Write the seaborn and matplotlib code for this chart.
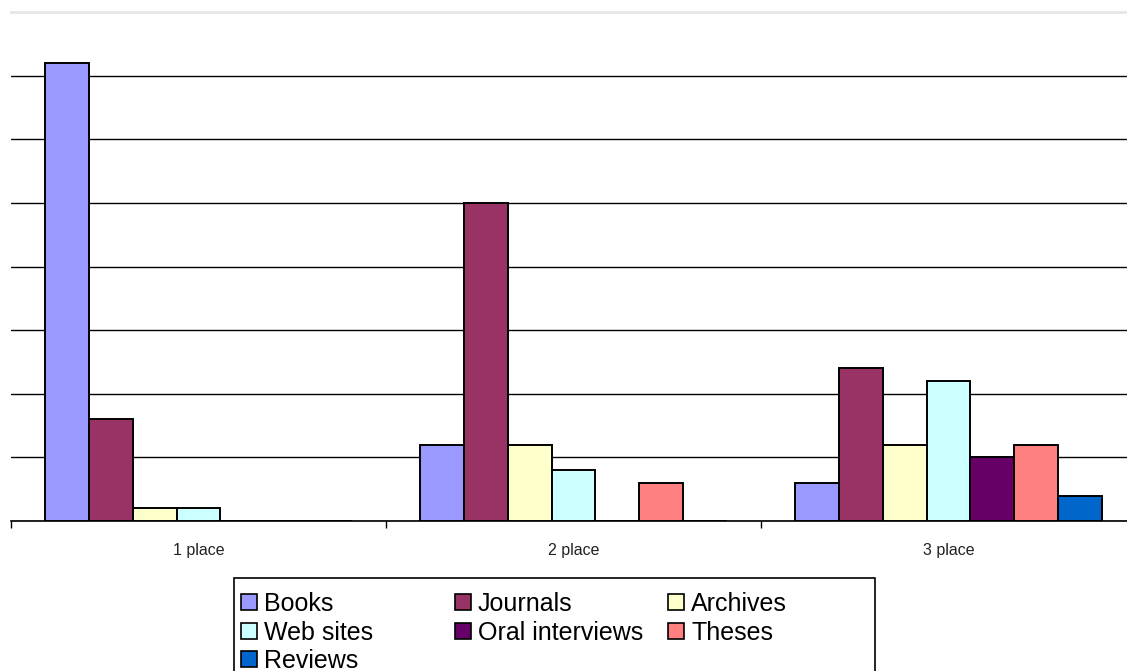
import matplotlib
matplotlib.use("Agg")
import matplotlib.pyplot as plt
import matplotlib.patches as mpatches
from matplotlib.ticker import FixedLocator
import seaborn as sns
import pandas as pd

categories = ["1 place", "2 place", "3 place"]
series = ["Books", "Journals", "Archives", "Web sites", "Oral interviews", "Theses", "Reviews"]
books = [36, 6, 3]
journals = [8, 25, 12]
archives = [1, 6, 6]
web_sites = [1, 4, 11]
oral_interviews = [0, 0, 5]
theses = [0, 3, 6]
reviews = [0, 0, 2]
colors = ["#9999FF", "#993366", "#FFFFCC", "#CCFFFF", "#660066", "#FF8080", "#0066CC"]

values = [books, journals, archives, web_sites, oral_interviews, theses, reviews]
rows = []
for s, vals in zip(series, values):
    for c, v in zip(categories, vals):
        rows.append({"category": c, "series": s, "value": v})
df = pd.DataFrame(rows)

sns.set_theme(style="white")
plt.rcParams["font.family"] = ["Liberation Sans", "DejaVu Sans"]

W, H = 1127, 671
fig = plt.figure(figsize=(W / 100, H / 100), dpi=100)
# axes in pixel coordinates
ax_l, ax_r, ax_b, ax_t = 11, 1136, 521, 12
ax = fig.add_axes([ax_l / W, (H - ax_b) / H, (ax_r - ax_l) / W, (ax_b - ax_t) / H])

sns.barplot(data=df, x="category", y="value", hue="series", hue_order=series,
            order=categories, palette=colors, saturation=1, width=0.82,
            edgecolor="black", linewidth=1.4, ax=ax, legend=False, zorder=3)

ax.set_xlim(-0.5, 2.5)
ax.set_ylim(0, 40)
ax.set_yticks([0, 5, 10, 15, 20, 25, 30, 35])
ax.set_yticklabels([])
ax.tick_params(axis="y", length=0)
ax.yaxis.grid(True, color="black", linewidth=1.0, zorder=0)
ax.set_axisbelow(True)
ax.xaxis.grid(False)
ax.set_xlabel("")
ax.set_ylabel("")

for side in ["left", "right"]:
    ax.spines[side].set_visible(False)
ax.spines["top"].set_color("#e6e6e6")
ax.spines["top"].set_linewidth(2)
ax.spines["bottom"].set_color("black")
ax.spines["bottom"].set_linewidth(1.2)

ax.tick_params(axis="x", which="major", length=0, pad=16, labelsize=11.5, labelcolor="#222222")
ax.xaxis.set_minor_locator(FixedLocator([-0.5, 0.5, 1.5]))
ax.tick_params(axis="x", which="minor", length=5, width=1, color="black", direction="out", bottom=True)

# legend frame
frame = mpatches.Rectangle((234 / W, (H - 700) / H), (875 - 234) / W, (700 - 578) / H,
                           transform=fig.transFigure, facecolor="white",
                           edgecolor="black", linewidth=1.2, zorder=5)
fig.patches.append(frame)

handles = {s: mpatches.Patch(facecolor=c, edgecolor="black", linewidth=1.2)
           for s, c in zip(series, colors)}
columns = [(["Books", "Web sites", "Reviews"], 241),
           (["Journals", "Oral interviews"], 455),
           (["Archives", "Theses"], 668)]
for labels, x0 in columns:
    leg = fig.legend([handles[l] for l in labels], labels,
                     loc="upper left", bbox_to_anchor=(x0 / W, (H - 592) / H),
                     bbox_transform=fig.transFigure, frameon=False,
                     fontsize=18, handlelength=0.62, handleheight=0.62,
                     handletextpad=0.3, labelspacing=0.18, borderpad=0,
                     borderaxespad=0)
    leg.set_zorder(6)
    for t in leg.get_texts():
        t.set_color("black")

fig.savefig("out.png", dpi=100)
